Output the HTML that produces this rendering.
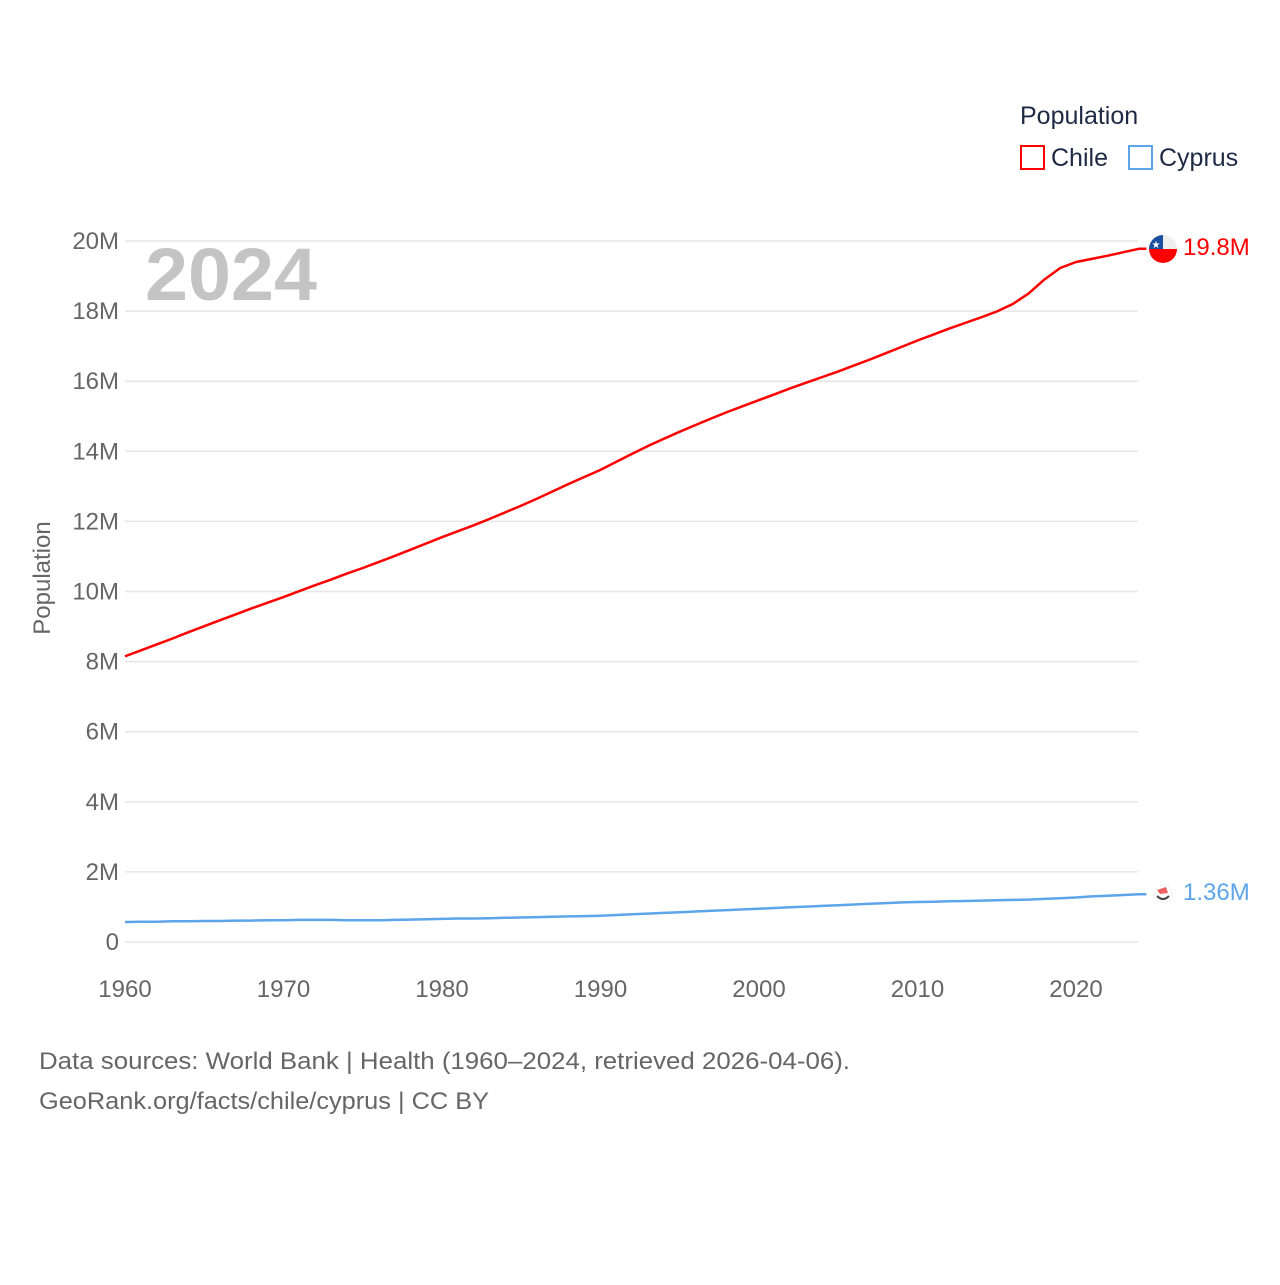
<!DOCTYPE html>
<html><head><meta charset="utf-8"><style>
body{margin:0;background:#fff;font-family:"Liberation Sans",sans-serif;}
svg text{font-family:"Liberation Sans",sans-serif;}
</style></head><body>
<svg id="chart" width="1280" height="1280" viewBox="0 0 1280 1280" xmlns="http://www.w3.org/2000/svg">
<g id="grid"></g>
<g id="yticks"></g>
<g id="xticks"></g>
<text x="145" y="300" font-size="74" font-weight="bold" fill="#c4c4c4" textLength="172" lengthAdjust="spacingAndGlyphs">2024</text>
<text transform="translate(50,578) rotate(-90)" text-anchor="middle" font-size="24" fill="#666">Population</text>
<g id="series"></g>
<g>
<text x="1020" y="124" font-size="25" fill="#1e2a44">Population</text>
<g><rect x="1021" y="146" width="23" height="23" fill="none" stroke="#ff0000" stroke-width="2"/><text x="1051" y="166" font-size="25" fill="#1e2a44">Chile</text></g>
<g><rect x="1129" y="146" width="23" height="23" fill="none" stroke="#5da5ea" stroke-width="2"/><text x="1159" y="166" font-size="25" fill="#1e2a44">Cyprus</text></g>
</g>
<g>
<clipPath id="cc"><circle cx="1163" cy="249" r="14"/></clipPath>
<g clip-path="url(#cc)"><rect x="1149" y="235" width="28" height="14" fill="#eee"/><rect x="1149" y="249" width="28" height="14" fill="#f00"/><rect x="1149" y="235" width="14" height="14" fill="#1a4fa0"/></g>
<text x="1156" y="248" font-size="10" fill="#fff" text-anchor="middle">★</text>
</g>
<g>
<circle cx="1163" cy="894" r="9" fill="#fff" stroke="#ddd" stroke-dasharray="1 2"/>
<path d="M1157 890 L1166 887 L1168 893 L1160 894 Z" fill="#f06060"/>
<path d="M1157 896 Q1163 902 1169 896" fill="none" stroke="#444" stroke-width="2"/>
</g>
<text x="1183" y="255" font-size="24" fill="#ff0000">19.8M</text>
<text x="1183" y="900" font-size="24" fill="#5da5ea">1.36M</text>
<text x="39" y="1069" font-size="24" fill="#666" textLength="811" lengthAdjust="spacingAndGlyphs">Data sources: World Bank | Health (1960–2024, retrieved 2026-04-06).</text>
<text x="39" y="1109" font-size="24" fill="#666" textLength="450" lengthAdjust="spacingAndGlyphs">GeoRank.org/facts/chile/cyprus | CC BY</text>
</svg>
<script>
const years = [];
for (let y = 1960; y <= 2024; y++) years.push(y);
const chile = [8.15,8.32,8.49,8.66,8.84,9.01,9.18,9.35,9.52,9.68,9.84,10.01,10.18,10.34,10.51,10.67,10.84,11.01,11.19,11.37,
11.55,11.72,11.89,12.07,12.26,12.45,12.65,12.86,13.07,13.27,13.47,13.70,13.93,14.15,14.36,14.56,14.75,14.94,15.12,15.29,
15.46,15.63,15.80,15.96,16.12,16.28,16.45,16.62,16.80,16.98,17.16,17.33,17.50,17.66,17.82,17.99,18.20,18.50,18.90,19.23,
19.40,19.49,19.58,19.68,19.78];
const cyprus = [0.57,0.58,0.58,0.59,0.59,0.60,0.60,0.61,0.61,0.62,0.62,0.63,0.63,0.63,0.62,0.62,0.62,0.63,0.64,0.65,
0.66,0.67,0.67,0.68,0.69,0.70,0.71,0.72,0.73,0.74,0.75,0.77,0.79,0.81,0.83,0.85,0.87,0.89,0.91,0.93,
0.95,0.97,0.99,1.01,1.03,1.05,1.07,1.09,1.11,1.13,1.14,1.15,1.16,1.17,1.18,1.19,1.20,1.21,1.23,1.25,
1.27,1.30,1.32,1.34,1.36];
const yTicks = [0,2,4,6,8,10,12,14,16,18,20];
const yTickLabels = ["0","2M","4M","6M","8M","10M","12M","14M","16M","18M","20M"];
const xTicks = [1960,1970,1980,1990,2000,2010,2020];

const NS = "http://www.w3.org/2000/svg";
const xs = y => 125 + (y - 1960) * (1076 - 125) / 60;
const ys = v => 942 - v * (942 - 241) / 20;
function mk(tag, attrs, parent, txt){const e=document.createElementNS(NS,tag);for(const k in attrs)e.setAttribute(k,attrs[k]);if(txt!==undefined)e.textContent=txt;parent.appendChild(e);return e;}
const grid=document.getElementById('grid'), yt=document.getElementById('yticks'), xt=document.getElementById('xticks'), ser=document.getElementById('series');
yTicks.forEach((v,i)=>{
  const l=mk('line',{x1:125,x2:1138,y1:ys(v),y2:ys(v),stroke:'#e6e6e6','stroke-width':1.5},grid);
  
  
  const t=mk('text',{x:119,y:ys(v)+8,'text-anchor':'end','font-size':24,fill:'#666'},yt,yTickLabels[i]);
  
  
});
xTicks.forEach(y=>{
  const t=mk('text',{x:xs(y),y:997,'text-anchor':'middle','font-size':24,fill:'#666'},xt,String(y));
  
  
});
function line(vals,color,name){
  let d=vals.map((v,i)=>(i?'L':'M')+xs(years[i]).toFixed(1)+' '+ys(v).toFixed(1)).join(' ');
  d+=' L'+(xs(2024)+7).toFixed(1)+' '+ys(vals[vals.length-1]).toFixed(1);
  const p=mk('path',{d:d,fill:'none',stroke:color,'stroke-width':2.5,'stroke-linejoin':'round'},ser);
  
  
}
line(chile,'#ff0000','chile-line');
line(cyprus,'#5da5ea','cyprus-line');
</script>
</body></html>
